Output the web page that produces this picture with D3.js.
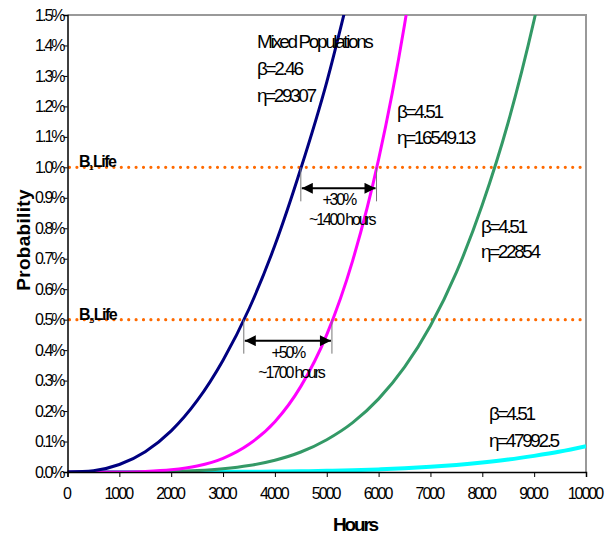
<!DOCTYPE html>
<html>
<head>
<meta charset="utf-8">
<script src="https://cdn.jsdelivr.net/npm/d3@7"></script>
<style>
  body { margin: 0; background: #fff; }
  svg text { font-family: "Liberation Sans", Arial, sans-serif; }
</style>
</head>
<body>
<div id="chart"></div>
<script>
// hours grid, every 500 h
const hours = d3.range(0, 10001, 500);

// probability in % (each stops once it leaves the top)
const mixedVals   = [0, 0.0045, 0.0246, 0.0667, 0.135, 0.234, 0.367, 0.535, 0.744, 0.996, 1.28, 1.62];
const magentaVals = [0, 0, 0.0003, 0.002, 0.0073, 0.0199, 0.045, 0.091, 0.165, 0.281, 0.451, 0.694, 1.026, 1.468, 2.045];
const greenVals   = [0, 0, 0.0001, 0.0005, 0.0017, 0.0046, 0.0105, 0.021, 0.0386, 0.0656, 0.106, 0.162, 0.240, 0.344, 0.480, 0.655, 0.877, 1.148, 1.484, 1.89];
const cyanVals    = [0, 0, 0, 0, 0.0001, 0.0002, 0.0004, 0.0008, 0.0014, 0.0023, 0.0037, 0.0057, 0.0085, 0.0121, 0.017, 0.0232, 0.031, 0.0407, 0.053, 0.0672, 0.0847];

const yTicks = d3.range(0, 1.51, 0.1);
const xTicks = d3.range(0, 10001, 1000);

// reference lines and the gaps between crossings
const bLines = [1.0, 0.5];
const gaps = [
  {level: 1.0, from: 4500, to: 5960, pct: "+30%", txt: "~1400 hours"},
  {level: 0.5, from: 3400, to: 5100, pct: "+50%", txt: "~1700 hours"}
];

let width = 615, height = 541;
let mLeft = 67.5, mRight = 586, mTop = 15, mBottom = 472;

let svg = d3.select('#chart').append('svg')
  .attr('width', width)
  .attr('height', height);

let x = d3.scaleLinear().domain([0, 10000]).range([mLeft, mRight]);
let y = d3.scaleLinear().domain([0, 1.5]).range([mBottom, mTop]);

//clip for the curves
let defs = svg.append('defs');
defs.append('clipPath').attr('id', 'plot')
  .append('rect')
  .attr('x', mLeft).attr('y', mTop)
  .attr('width', mRight - mLeft).attr('height', mBottom - mTop);

//gray frame top and right
svg.append('path')
  .attr('d', `M${mLeft},${mTop}H${mRight}V${mBottom}`)
  .attr('fill', 'none')
  .attr('stroke', '#999')
  .attr('stroke-width', 2);

//orange dotted B lines
svg.selectAll('.bline')
  .data(bLines)
  .enter().append('line')
  .attr('x1', mLeft + 2).attr('x2', mRight)
  .attr('y1', d => y(d)).attr('y2', d => y(d))
  .attr('stroke', '#ff6a00')
  .attr('stroke-width', 3.2)
  .attr('stroke-linecap', 'round')
  .attr('stroke-dasharray', '0 7.4');

//curves
let line = d3.line()
  .x((d, i) => x(hours[i]))
  .y(d => y(d))
  .curve(d3.curveMonotoneX);

let series = [
  {vals: cyanVals, color: '#00ffff', w: 4},
  {vals: greenVals, color: '#339966', w: 3},
  {vals: magentaVals, color: '#ff00ff', w: 3},
  {vals: mixedVals, color: '#000080', w: 3}
];
svg.append('g').attr('clip-path', 'url(#plot)')
  .selectAll('path')
  .data(series)
  .enter().append('path')
  .attr('d', d => line(d.vals))
  .attr('fill', 'none')
  .attr('stroke', d => d.color)
  .attr('stroke-width', d => d.w);

//axes
let yAxis = svg.append('g')
  .attr('transform', `translate(${mLeft},0)`)
  .call(d3.axisLeft(y).tickValues(yTicks).tickSize(4).tickPadding(0)
    .tickFormat(d => d.toFixed(1) + '%'));
let xAxis = svg.append('g')
  .attr('transform', `translate(0,${mBottom})`)
  .call(d3.axisBottom(x).tickValues(xTicks).tickSize(5).tickPadding(11)
    .tickFormat(d3.format('d')));

[yAxis, xAxis].forEach(a => {
  a.select('.domain').attr('stroke', '#000').attr('stroke-width', 1.5);
  a.selectAll('.tick line').attr('stroke', '#000');
  a.selectAll('text')
    .attr('fill', '#000')
    .style('font-size', '16px')
    .style('letter-spacing', '-2px')
    .style('font-family', '"Liberation Sans", Arial, sans-serif');
});
xAxis.selectAll('text').attr('dx', '-0.1em');

//axis titles
svg.append('text')
  .attr('x', 355).attr('y', 531)
  .attr('text-anchor', 'middle')
  .style('font-size', '19px').style('font-weight', 'bold')
  .style('letter-spacing', '-2.2px')
  .text('Hours');
svg.append('text')
  .attr('transform', 'translate(30,240) rotate(-90)')
  .attr('text-anchor', 'middle')
  .style('font-size', '19px').style('font-weight', 'bold')
  .style('letter-spacing', '0.3px')
  .text('Probability');

//B life labels
let bl = svg.selectAll('.blab')
  .data([{v: 1.0, sub: '1'}, {v: 0.5, sub: '.5'}])
  .enter().append('text')
  .attr('x', 79).attr('y', d => y(d.v))
  .style('font-size', '16px').style('font-weight', 'bold')
  .style('letter-spacing', '-1.5px');
bl.append('tspan').text('B');
bl.append('tspan').attr('dy', 3).style('font-size', '8px').text(d => d.sub);
bl.append('tspan').attr('dy', -3).attr('dx', 1).text('Life');

//gap arrows
defs.append('marker').attr('id', 'arr')
  .attr('viewBox', '0 0 10 10').attr('refX', 10).attr('refY', 5)
  .attr('markerWidth', 12).attr('markerHeight', 11)
  .attr('markerUnits', 'userSpaceOnUse')
  .attr('orient', 'auto-start-reverse')
  .append('path').attr('d', 'M0,0L10,5L0,10Z').attr('fill', '#000');

gaps.forEach(g => {
  let y0 = y(g.level);
  let ya = y0 + 21;
  [g.from, g.to].forEach(h => {
    svg.append('line')
      .attr('x1', x(h)).attr('x2', x(h))
      .attr('y1', y0).attr('y2', y0 + 34)
      .attr('stroke', '#777').attr('stroke-width', 1);
  });
  svg.append('line')
    .attr('x1', x(g.from) + 1).attr('x2', x(g.to) - 1)
    .attr('y1', ya).attr('y2', ya)
    .attr('stroke', '#000').attr('stroke-width', 2)
    .attr('marker-start', 'url(#arr)')
    .attr('marker-end', 'url(#arr)');
  let cx = (x(g.from) + x(g.to)) / 2;
  svg.append('text')
    .attr('x', cx).attr('y', ya + 17)
    .attr('text-anchor', 'middle')
    .style('font-size', '16px').style('letter-spacing', '-2.2px')
    .text(g.pct);
  svg.append('text')
    .attr('x', cx + 3).attr('y', ya + 37)
    .attr('text-anchor', 'middle')
    .style('font-size', '16px').style('letter-spacing', '-2.2px')
    .text(g.txt);
});

//curve parameter notes
let notes = [
  {x: 257, y: 48, t: 'Mixed Populations'},
  {x: 257, y: 75, t: 'β=2.46'},
  {x: 257, y: 102, t: 'η=29307'},
  {x: 397, y: 118, t: 'β=4.51'},
  {x: 397, y: 144, t: 'η=16549.13'},
  {x: 481, y: 233, t: 'β=4.51'},
  {x: 481, y: 258, t: 'η=22854'},
  {x: 489, y: 420, t: 'β=4.51'},
  {x: 489, y: 447, t: 'η=47992.5'}
];
svg.selectAll('.note')
  .data(notes)
  .enter().append('text')
  .attr('x', d => d.x).attr('y', d => d.y)
  .style('font-size', '19px')
  .style('letter-spacing', '-2.4px')
  .text(d => d.t);
</script>
</body>
</html>
